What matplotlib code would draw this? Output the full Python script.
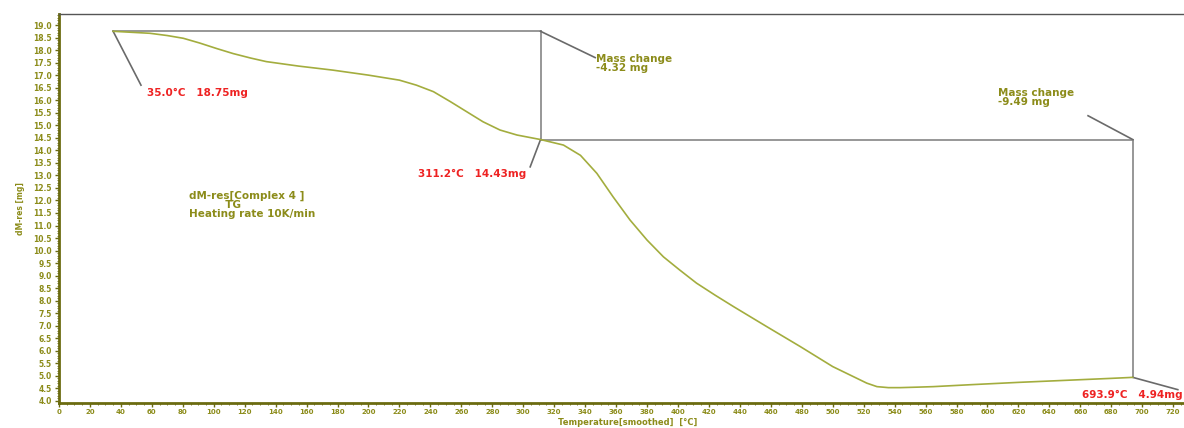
import matplotlib
matplotlib.use("Agg")
import matplotlib.pyplot as plt
from matplotlib.ticker import MultipleLocator, FormatStrFormatter

# ---- data ----
temperature = [35, 58.8, 70, 80.4, 91, 102, 112.6, 124, 134, 155, 177, 200, 220, 231,
               242, 253, 263.5, 274, 285, 296, 311.2, 326, 337, 347.6, 358, 369, 380,
               390.6, 401, 412, 424, 436, 457.5, 479, 500, 511, 522, 528.6, 536, 543.6,
               555, 565, 590, 620, 650, 680, 693.9]
mass = [18.75, 18.67, 18.58, 18.47, 18.28, 18.06, 17.86, 17.68, 17.54, 17.36, 17.2,
        17.0, 16.8, 16.6, 16.34, 15.94, 15.54, 15.14, 14.81, 14.61, 14.43, 14.21,
        13.8, 13.08, 12.15, 11.22, 10.42, 9.75, 9.23, 8.70, 8.22, 7.76, 6.96, 6.17,
        5.37, 5.04, 4.71, 4.57, 4.53, 4.53, 4.55, 4.57, 4.65, 4.74, 4.82, 4.90, 4.94]

step_points_T = [35.0, 311.2, 693.9]
step_points_m = [18.75, 14.43, 4.94]
mass_changes = ["-4.32 mg", "-9.49 mg"]
point_labels = ["35.0°C   18.75mg", "311.2°C   14.43mg", "693.9°C   4.94mg"]
info_text = "dM-res[Complex 4 ]\n          TG\nHeating rate 10K/min"

OLIVE = "#8c8c1a"
CURVE = "#a3ad3e"
RED = "#ee2222"
GRAY = "#8f8f8f"

fig = plt.figure(figsize=(11.84, 4.28), dpi=100)
ax = fig.add_axes([0.0498, 0.058, 0.9502, 0.9093])
ax.set_xlim(0, 727)
ax.set_ylim(3.91, 19.44)

ax.plot(temperature, mass, color=CURVE, lw=1.2, zorder=3)

# step construction lines
T0, T1, T2 = step_points_T
m0, m1, m2 = step_points_m
ax.plot([T0, T1], [m0, m0], color=GRAY, lw=1.3, zorder=2)
ax.plot([T1, T1], [m0, m1], color=GRAY, lw=1.3, zorder=2)
ax.plot([T1, T2], [m1, m1], color=GRAY, lw=1.3, zorder=2)
ax.plot([T2, T2], [m1, m2], color=GRAY, lw=1.3, zorder=2)

LEAD = "#6a6a6a"
# leader lines + labels (positions in data coords)
ax.plot([T0, 53], [m0, 16.6], color=LEAD, lw=1.2)
ax.text(57, 16.3, point_labels[0], color=RED, fontsize=7.5, fontweight="bold",
        va="center", ha="left")
ax.plot([T1, 304.5], [m1, 13.34], color=LEAD, lw=1.2)
ax.text(302, 13.05, point_labels[1], color=RED, fontsize=7.5, fontweight="bold",
        va="center", ha="right")
ax.plot([T2, 723], [m2, 4.45], color=LEAD, lw=1.2)
ax.text(726, 4.22, point_labels[2], color=RED, fontsize=7.5, fontweight="bold",
        va="center", ha="right")

ax.plot([T1, 346.5], [m0, 17.7], color=LEAD, lw=1.2)
ax.text(347, 17.45, "Mass change\n" + mass_changes[0], color=OLIVE, fontsize=7.5,
        fontweight="bold", va="center", ha="left", linespacing=0.9)
ax.plot([T2, 665], [m1, 15.38], color=LEAD, lw=1.2)
ax.text(607, 16.1, "Mass change\n" + mass_changes[1], color=OLIVE, fontsize=7.5,
        fontweight="bold", va="center", ha="left", linespacing=0.9)

ax.text(84, 11.82, info_text, color=OLIVE, fontsize=7.5, fontweight="bold",
        va="center", ha="left", linespacing=0.9)

# axes styling
ax.spines["right"].set_visible(False)
ax.spines["top"].set_color("#555555")
ax.spines["top"].set_linewidth(1.0)
for s in ("left", "bottom"):
    ax.spines[s].set_color("#6b6b10")
    ax.spines[s].set_linewidth(2.0)

ax.xaxis.set_major_locator(MultipleLocator(20))
ax.xaxis.set_minor_locator(MultipleLocator(5))
ax.yaxis.set_major_locator(MultipleLocator(0.5))
ax.yaxis.set_minor_locator(MultipleLocator(0.1))
ax.yaxis.set_major_formatter(FormatStrFormatter("%.1f"))
ax.tick_params(axis="both", which="major", colors="#6b6b10", labelcolor=OLIVE,
               labelsize=5.5, length=3, width=1, pad=2)
ax.tick_params(axis="x", which="major", labelsize=5, pad=1.5)
ax.tick_params(axis="both", which="minor", colors="#6b6b10", length=1.5, width=0.6)
for lab in ax.get_xticklabels() + ax.get_yticklabels():
    lab.set_fontweight("bold")

ax.set_ylabel("dM-res [mg]", color=OLIVE, fontsize=5.5, fontweight="bold", labelpad=6)
fig.text(0.53, 0.003, "Temperature[smoothed]  [°C]", color=OLIVE, fontsize=6,
         fontweight="bold", ha="center", va="bottom")

fig.savefig("out.png", dpi=100)
